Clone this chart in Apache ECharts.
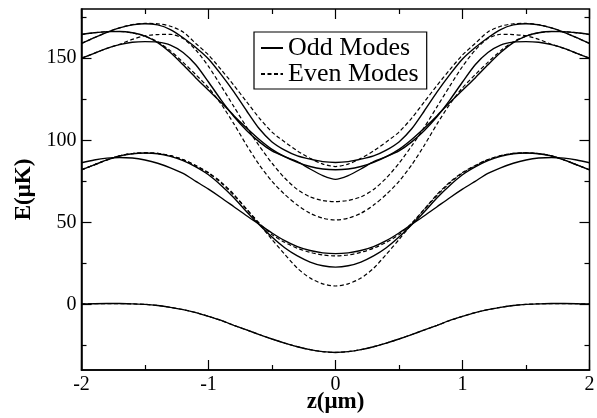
<!DOCTYPE html>
<html>
<head>
<meta charset="utf-8">
<script src="https://cdn.jsdelivr.net/npm/echarts@6/dist/echarts.min.js"></script>
<style>html,body{margin:0;padding:0;background:#fff;}#c{width:597px;height:418px;}</style>
</head>
<body>
<div id="c"></div>
<script>
const zs = [-2,-1.9,-1.8,-1.7,-1.6,-1.5,-1.4,-1.3,-1.2,-1.1,-1,-0.9,-0.8,-0.7,-0.6,-0.5,-0.4,-0.3,-0.2,-0.1,0,0.1,0.2,0.3,0.4,0.5,0.6,0.7,0.8,0.9,1,1.1,1.2,1.3,1.4,1.5,1.6,1.7,1.8,1.9,2];
const xTicks = [-2,-1,0,1,2];
const xMinorTicks = [-1.5,-0.5,0.5,1.5];
const yTicks = [0,50,100,150];
const yMinorTicks = [-25,25,75,125,175];

// Odd modes (solid)
const oddGround = [0.2,0.4,0.5,0.5,0.3,0,-0.7,-1.8,-3.2,-5,-7.3,-9.8,-12.8,-15.6,-18.4,-21.1,-23.6,-25.8,-27.6,-28.8,-29.3,-28.8,-27.6,-25.8,-23.6,-21.1,-18.4,-15.6,-12.8,-9.8,-7.3,-5,-3.2,-1.8,-0.7,0,0.3,0.5,0.5,0.4,0.2];
const oddB2a = [82,85,88,90.5,91.8,92.2,91.8,90.2,87.6,83.8,79,72.5,65,56.5,48.5,41,34.5,29.5,25.8,23.5,22.7,23.5,25.8,29.5,34.5,41,48.5,56.5,65,72.5,79,83.8,87.6,90.2,91.8,92.2,91.8,90.5,88,85,82];
const oddB2b = [86.3,88,89.1,89.5,89.2,88,86,83.2,79.8,75,70.2,65,59.5,54,48.8,43.5,38.8,35.2,32.8,31.4,30.9,31.4,32.8,35.2,38.8,43.5,48.8,54,59.5,65,70.2,75,79.8,83.2,86,88,89.2,89.5,89.1,88,86.3];
const oddB3a = [164.5,165.5,166.2,166.3,165.5,163.5,159.5,153.5,146,138,130.5,123,115,107.5,100.5,94.5,90,86.5,84,82.5,82,82.5,84,86.5,90,94.5,100.5,107.5,115,123,130.5,138,146,153.5,159.5,163.5,165.5,166.3,166.2,165.5,164.5];
const oddB3b = [159,162.5,165.8,168.5,170.3,171,170.3,167.5,162.5,156.5,149.5,140,129.5,118,107,99,94,90.5,88.5,87,86.5,87,88.5,90.5,94,99,107,118,129.5,140,149.5,156.5,162.5,167.5,170.3,171,170.3,168.5,165.8,162.5,159];
const oddB3c = [150,153,156,158.3,159.7,160.1,159.8,158,153.5,146,135.5,124.5,114.5,106,99,93.5,90,87,82.5,78.5,76.2,78.5,82.5,87,90,93.5,99,106,114.5,124.5,135.5,146,153.5,158,159.8,160.1,159.7,158.3,156,153,150];

// Even modes (dashed)
const evenGround = [0.2,0.4,0.5,0.5,0.3,0,-0.7,-1.8,-3.2,-5,-7.3,-9.8,-12.8,-15.6,-18.4,-21.1,-23.6,-25.8,-27.6,-28.8,-29.3,-28.8,-27.6,-25.8,-23.6,-21.1,-18.4,-15.6,-12.8,-9.8,-7.3,-5,-3.2,-1.8,-0.7,0,0.3,0.5,0.5,0.4,0.2];
const evenB2a = [82,85,88,90.5,91.9,92.3,92,90.6,88.2,84.5,80,74,66.5,58,49.5,42.5,37.8,34.2,31.7,30.1,29.5,30.1,31.7,34.2,37.8,42.5,49.5,58,66.5,74,80,84.5,88.2,90.6,92,92.3,91.9,90.5,88,85,82];
const evenB2b = [82,85,88,90.5,91.9,92.3,92,90.6,88.2,84.6,80.3,74.5,67,58,49,39.5,30.5,22,16,12.5,11.2,12.5,16,22,30.5,39.5,49,58,67,74.5,80.3,84.6,88.2,90.6,92,92.3,91.9,90.5,88,85,82];
const evenB3a = [159,162.5,165.8,168.5,170.5,171.2,171,169.5,166,159,152,143,133.5,123.5,113.5,105,99,93.5,89,85.5,84,85.5,89,93.5,99,105,113.5,123.5,133.5,143,152,159,166,169.5,171,171.2,170.5,168.5,165.8,162.5,159];
const evenB3b = [150,153,156,158.5,161.5,163.7,164.4,164.6,162,155,145,133,120.5,108,96.5,86,77,70,65.5,63.3,62.6,63.3,65.5,70,77,86,96.5,108,120.5,133,145,155,162,164.6,164.4,163.7,161.5,158.5,156,153,150];
const evenB3c = [164.5,165.5,166.2,166.3,165.5,163.5,160,154.5,147.5,140,132,122,110,97,85,75,67,60.5,55.5,52.5,51.4,52.5,55.5,60.5,67,75,85,97,110,122,132,140,147.5,154.5,160,163.5,165.5,166.3,166.2,165.5,164.5];

const oddCurves = [oddGround, oddB2a, oddB2b, oddB3a, oddB3b, oddB3c];
const evenCurves = [evenGround, evenB2a, evenB2b, evenB3a, evenB3b, evenB3c];

const FONT = "'Liberation Serif','DejaVu Serif',serif";
const pairs = arr => zs.map((z, i) => [z, arr[i]]);

const series = [];
oddCurves.forEach(c => series.push({
  type: 'line', name: 'Odd Modes', data: pairs(c), symbol: 'none', smooth: 0.25,
  itemStyle: { color: '#000' },
  lineStyle: { color: '#000', width: 1.4, type: 'solid' }, z: 2
}));
evenCurves.forEach(c => series.push({
  type: 'line', name: 'Even Modes', data: pairs(c), symbol: 'none', smooth: 0.25,
  itemStyle: { color: '#000' },
  lineStyle: { color: '#000', width: 1.2, type: [4, 2.5] }, z: 3
}));

const tickStyle = { color: '#000', width: 1.2 };
function xAxisOf(pos, ticks, len, withLine, labels) {
  return {
    type: 'value', min: -2, max: 2, position: pos,
    axisLine: { show: withLine, onZero: false, lineStyle: { color: '#000', width: 1.5 } },
    axisTick: { show: true, inside: true, length: len, customValues: ticks, lineStyle: tickStyle },
    splitLine: { show: false },
    axisLabel: labels ? { show: true, fontFamily: FONT, fontSize: 20, color: '#000', margin: 5, customValues: ticks } : { show: false }
  };
}
function yAxisOf(pos, ticks, len, withLine, labels) {
  return {
    type: 'value', min: -40, max: 180, position: pos,
    axisLine: { show: withLine, onZero: false, lineStyle: { color: '#000', width: 1.5 } },
    axisTick: { show: true, inside: true, length: len, customValues: ticks, lineStyle: tickStyle },
    splitLine: { show: false },
    axisLabel: labels ? { show: true, fontFamily: FONT, fontSize: 20, color: '#000', margin: 5, customValues: ticks } : { show: false }
  };
}

const xBottom = xAxisOf('bottom', xTicks, 10, true, true);
xBottom.name = 'z(μm)';
xBottom.nameLocation = 'middle';
xBottom.nameGap = 21;
xBottom.nameMoveOverlap = false;
xBottom.nameTextStyle = { fontFamily: FONT, fontSize: 23, fontWeight: 'bold', color: '#000' };
const yLeft = yAxisOf('left', yTicks, 10, true, true);
yLeft.name = 'E(μK)';
yLeft.nameLocation = 'middle';
yLeft.nameGap = 41;
yLeft.nameRotate = 90;
yLeft.nameTextStyle = { fontFamily: FONT, fontSize: 23, fontWeight: 'bold', color: '#000' };

const chart = echarts.init(document.getElementById('c'), null, { renderer: 'canvas' });
chart.setOption({
  animation: false,
  backgroundColor: '#fff',
  grid: { left: 81.5, right: 7.5, top: 9, bottom: 48, containLabel: false, outerBoundsMode: 'none',
    show: true, borderColor: '#000', borderWidth: 1.5, backgroundColor: 'transparent' },
  legend: {
    data: ['Odd Modes', 'Even Modes'],
    orient: 'vertical', left: 254, top: 32,
    itemWidth: 22, itemHeight: 10, itemGap: 0,
    padding: [3, 8, 2, 6],
    borderColor: '#000', borderWidth: 1.2,
    itemStyle: { color: 'transparent', borderColor: 'transparent', borderWidth: 0 },
    textStyle: { fontFamily: FONT, fontSize: 26, color: '#000', lineHeight: 24 },
    selectedMode: false
  },
  xAxis: [
    xBottom,
    xAxisOf('top', xTicks, 10, false, false),
    xAxisOf('bottom', xMinorTicks, 5, false, false),
    xAxisOf('top', xMinorTicks, 5, false, false)
  ],
  yAxis: [
    yLeft,
    yAxisOf('right', yTicks, 10, false, false),
    yAxisOf('left', yMinorTicks, 5, false, false),
    yAxisOf('right', yMinorTicks, 5, false, false)
  ],
  series: series
});
</script>
</body>
</html>
